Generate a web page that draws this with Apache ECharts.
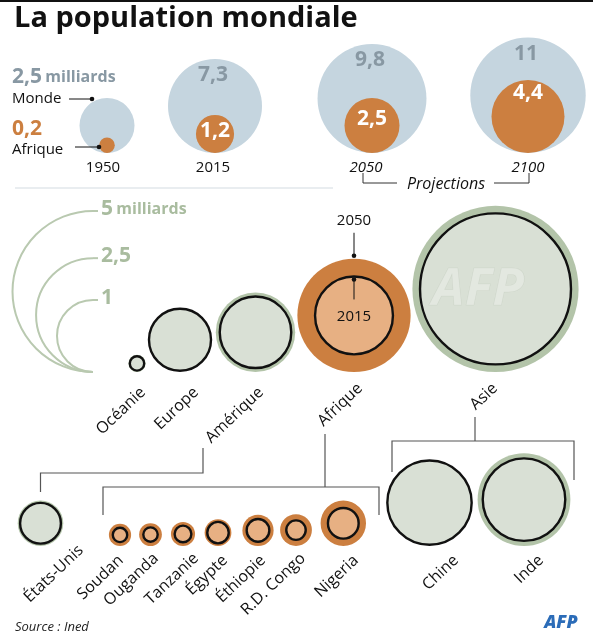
<!DOCTYPE html>
<html><head><meta charset="utf-8">
<script src="https://cdn.jsdelivr.net/npm/echarts@6/dist/echarts.min.js"></script>
<style>html,body{margin:0;padding:0;background:#fff}#c{width:593px;height:644px}</style>
</head><body><div id="c"></div>
<script>
// ---------------- DATA ----------------
const worldYears   = ['1950', '2015', '2050', '2100'];
const worldPop     = [2.5, 7.3, 9.8, 11];     // milliards
const africaPop    = [0.2, 1.2, 2.5, 4.4];    // milliards
const worldLabels  = ['2,5', '7,3', '9,8', '11'];
const africaLabels = ['0,2', '1,2', '2,5', '4,4'];

const regions        = ['Océanie', 'Europe', 'Amérique', 'Afrique', 'Asie'];
const regionPop2015  = [40, 742, 987, 1171, 4397];   // millions
const regionPop2050  = [57, 728, 1217, 2473, 5327];  // millions
const midYearLabels  = ['2015', '2050'];

const countries       = ['États-Unis', 'Soudan', 'Ouganda', 'Tanzanie', 'Égypte', 'Éthiopie', 'R.D. Congo', 'Nigeria', 'Chine', 'Inde'];
const countryRegion   = ['Amérique', 'Afrique', 'Afrique', 'Afrique', 'Afrique', 'Afrique', 'Afrique', 'Afrique', 'Asie', 'Asie'];
const countryPop2015  = [321, 40, 40, 54, 89, 99, 73, 182, 1372, 1314];   // millions
const countryPop2050  = [400, 95, 100, 112, 138, 188, 195, 398, 1344, 1660];

const legendValues = [5000, 2500, 1000];   // millions
const legendLabels = ['5', '2,5', '1'];

// ---------------- LAYOUT ----------------
const W = 593, H = 644;
const FONT = '"Open Sans", "Noto Sans", sans-serif';
const C = {
  world: '#c5d5df', worldTxt: '#8898a3', afr: '#cc7f40', afrLight: '#e7b083',
  green: '#b3c4a9', greenLight: '#d9e0d5', legend: '#b9c9b0', legendTxt: '#a9bc9f', line: '#555'
};
const TOP_BASE = 153, MID_BASE = 372, BOT_BASE = 546;
const topX  = [107, 215, 372, 528];
const yearLabelX = [103, 213, 366, 528];
const afrLabelDy = [0, -3, -6, -23];
const midX  = [137, 180, 255.5, 354, 495.5];
const midLabelAnchor = [[143, 390], [196, 390], [261, 390], [360, 386], [495, 386]];
const botX  = [40.5, 120, 150.5, 183, 218, 258, 296, 343.3, 429.5, 524];
const botLabelAnchor = [[81, 548], [121, 558], [156, 556], [196, 556], [225, 558], [263, 558], [303, 556], [356, 558], [456, 558], [541, 558]];
const LEG_CX = 93;

const radTop = v => 17.4 * Math.sqrt(v);          // milliards -> data units
const radMid = v => 36 * Math.sqrt(v / 1000);     // millions  -> data units
const ROT = 0.76;

const chart = echarts.init(document.getElementById('c'), null, {width: W, height: H});

function colorsFor(region) {
  return region === 'Afrique' ? [C.afr, C.afrLight] : [C.green, C.greenLight];
}

function rotLabel(x, y, text) {
  return {type: 'text', x: x, y: y, rotation: ROT, originX: 0, originY: 0,
    style: {text: text, align: 'right', verticalAlign: 'middle', fill: '#111', font: '16px ' + FONT}};
}

// top row
function renderTop(params, api) {
  const i = api.value(3);
  const rW = api.size([radTop(api.value(1)), 0])[0];
  const rA = api.size([radTop(api.value(2)), 0])[0];
  const base = api.coord([api.value(0), TOP_BASE]);
  const cx = base[0];
  const cyW = base[1] - rW, cyA = base[1] - rA;
  const ch = [
    {type: 'circle', shape: {cx: cx, cy: cyW, r: rW}, style: {fill: C.world}},
    {type: 'circle', shape: {cx: cx, cy: cyA, r: rA}, style: {fill: C.afr}},
    {type: 'text', x: yearLabelX[i], y: 168, style: {text: worldYears[i], align: 'center', verticalAlign: 'middle',
      fill: '#111', font: (i >= 2 ? 'italic ' : '') + '15px ' + FONT}}
  ];
  if (i === 0) {
    ch.push(
      {type: 'text', x: 12, y: 77, style: {text: '{a|' + worldLabels[0] + '} {b|milliards}', verticalAlign: 'middle',
        rich: {a: {fill: C.worldTxt, font: 'bold 21px ' + FONT}, b: {fill: C.worldTxt, font: 'bold 16px ' + FONT}}}},
      {type: 'text', x: 12, y: 99, style: {text: 'Monde', verticalAlign: 'middle', fill: '#111', font: '15px ' + FONT}},
      {type: 'line', shape: {x1: 69, y1: 99, x2: cx - 15, y2: 99}, style: {stroke: '#111', lineWidth: 1}},
      {type: 'circle', shape: {cx: cx - 15, cy: 99, r: 2.3}, style: {fill: '#111'}},
      {type: 'text', x: 12, y: 129, style: {text: africaLabels[0], verticalAlign: 'middle', fill: C.afr, font: 'bold 21px ' + FONT}},
      {type: 'text', x: 12, y: 150, style: {text: 'Afrique', verticalAlign: 'middle', fill: '#111', font: '15px ' + FONT}},
      {type: 'line', shape: {x1: 75, y1: 147, x2: cx - 8, y2: 147}, style: {stroke: '#111', lineWidth: 1}},
      {type: 'circle', shape: {cx: cx - 8, cy: 147, r: 2.3}, style: {fill: '#111'}}
    );
  } else {
    ch.push(
      {type: 'text', x: cx - 2, y: cyW - rW + 16, style: {text: worldLabels[i], align: 'center', verticalAlign: 'middle',
        fill: C.worldTxt, font: 'bold 21px ' + FONT}},
      {type: 'text', x: cx, y: cyA + afrLabelDy[i], style: {text: africaLabels[i], align: 'center', verticalAlign: 'middle',
        fill: '#fff', font: 'bold 21px ' + FONT}}
    );
  }
  return {type: 'group', children: ch};
}

// middle row (continents) & bottom row (countries)
function makeRender(names, regionsOf, anchors, baseY) {
  return function (params, api) {
    const i = api.value(3);
    const r15 = api.size([radMid(api.value(1)), 0])[0];
    const r50 = api.size([radMid(api.value(2)), 0])[0];
    const rMax = Math.max(r15 + 1.2, r50);
    const b = api.coord([api.value(0), baseY]);
    const cx = b[0], cy = b[1] - rMax;
    const col = colorsFor(regionsOf[i]);
    const ch = [
      {type: 'circle', shape: {cx: cx, cy: cy, r: r50}, style: {fill: col[0]}},
      {type: 'circle', shape: {cx: cx, cy: cy, r: r15}, style: {fill: col[1], stroke: '#111', lineWidth: 2.4}},
      rotLabel(anchors[i][0], anchors[i][1], names[i])
    ];
    if (baseY === MID_BASE && names[i] === 'Afrique') {
      const top50 = cy - r50, top15 = cy - r15;
      ch.push(
        {type: 'text', x: cx, y: top50 - 38, style: {text: midYearLabels[1], align: 'center', verticalAlign: 'middle', fill: '#111', font: '15px ' + FONT}},
        {type: 'line', shape: {x1: cx, y1: top50 - 26, x2: cx, y2: top50 - 3}, style: {stroke: '#111', lineWidth: 1}},
        {type: 'circle', shape: {cx: cx, cy: top50 - 3, r: 2.3}, style: {fill: '#111'}},
        {type: 'line', shape: {x1: cx, y1: top15 + 3, x2: cx, y2: top15 + 23}, style: {stroke: '#111', lineWidth: 1}},
        {type: 'circle', shape: {cx: cx, cy: top15 + 3, r: 2.3}, style: {fill: '#111'}},
        {type: 'text', x: cx, y: top15 + 40, style: {text: midYearLabels[0], align: 'center', verticalAlign: 'middle', fill: '#111', font: '15px ' + FONT}}
      );
    }
    return {type: 'group', children: ch};
  };
}

function renderLegend(params, api) {
  const i = params.dataIndex;
  const r = api.size([radMid(api.value(0)), 0])[0];
  const b = api.coord([LEG_CX, MID_BASE]);
  const cx = b[0], cy = b[1] - r;
  return {type: 'group', children: [
    {type: 'arc', shape: {cx: cx, cy: cy, r: r, startAngle: Math.PI / 2, endAngle: Math.PI * 1.5, clockwise: true},
      style: {stroke: C.legend, lineWidth: 2, fill: null}},
    {type: 'line', shape: {x1: cx, y1: cy - r, x2: cx + 5, y2: cy - r}, style: {stroke: C.legend, lineWidth: 2}},
    {type: 'text', x: cx + 8, y: cy - r - 2, style: {
      text: i === 0 ? '{a|' + legendLabels[i] + '} {b|milliards}' : '{a|' + legendLabels[i] + '}',
      verticalAlign: 'middle',
      rich: {a: {fill: C.legendTxt, font: 'bold 21px ' + FONT}, b: {fill: C.legendTxt, font: 'bold 16px ' + FONT}}}}
  ]};
}

const lineStyle = {stroke: C.line, lineWidth: 1.2, fill: null};
const graphics = [
  {type: 'line', shape: {x1: 0, y1: 1, x2: W, y2: 1}, style: {stroke: '#111', lineWidth: 2}},
  {type: 'line', shape: {x1: 15, y1: 188, x2: 333, y2: 188}, style: {stroke: '#d3dbe1', lineWidth: 1}},
  {type: 'polyline', shape: {points: [[363, 173], [363, 183], [397, 183]]}, style: {stroke: '#333', lineWidth: 1, fill: null}},
  {type: 'polyline', shape: {points: [[494, 183], [529, 183], [529, 173]]}, style: {stroke: '#333', lineWidth: 1, fill: null}},
  {type: 'text', x: 446, y: 184, style: {text: 'Projections', align: 'center', verticalAlign: 'middle', fill: '#111', font: 'italic 16px ' + FONT}},
  // tree lines
  {type: 'polyline', shape: {points: [[203, 448], [203, 473], [40.5, 473], [40.5, 492]]}, style: lineStyle},
  {type: 'polyline', shape: {points: [[325, 434], [325, 487]]}, style: lineStyle},
  {type: 'polyline', shape: {points: [[103, 515], [103, 487], [379, 487], [379, 515]]}, style: lineStyle},
  {type: 'polyline', shape: {points: [[475, 417], [475, 441]]}, style: lineStyle},
  {type: 'polyline', shape: {points: [[392, 472], [392, 441], [574, 441], [574, 480]]}, style: lineStyle},
  // watermark
  {type: 'text', x: 478, y: 290, z: 100, style: {text: 'AFP', align: 'center', verticalAlign: 'middle',
    fill: 'rgba(255,255,255,0.28)', stroke: 'rgba(175,185,170,0.35)', lineWidth: 0.6, font: 'italic bold 52px ' + FONT}},
  {type: 'text', x: 15, y: 627, style: {text: 'Source : Ined', verticalAlign: 'middle', fill: '#222', font: 'italic 13px ' + FONT}},
  {type: 'text', x: 561, y: 623, style: {text: 'AFP', align: 'center', verticalAlign: 'middle', fill: '#2b6cb8', font: 'italic 900 18px ' + FONT}}
];

chart.setOption({
  animation: false,
  title: {text: 'La population mondiale', left: 9, top: -1,
    textStyle: {fontFamily: FONT, fontWeight: 'bold', fontSize: 29, color: '#111'}},
  grid: {left: 0, right: 0, top: 0, bottom: 0},
  xAxis: {type: 'value', min: 0, max: W, show: false},
  yAxis: {type: 'value', min: 0, max: H, inverse: true, show: false},
  graphic: graphics,
  series: [
    {type: 'custom', coordinateSystem: 'cartesian2d', renderItem: renderLegend,
      data: legendValues.map(v => [v]), encode: {x: 0, y: 0}, silent: true},
    {type: 'custom', coordinateSystem: 'cartesian2d', renderItem: renderTop,
      data: worldYears.map((y, i) => [topX[i], worldPop[i], africaPop[i], i]), encode: {x: 0, y: 1}, silent: true},
    {type: 'custom', coordinateSystem: 'cartesian2d', renderItem: makeRender(regions, regions, midLabelAnchor, MID_BASE),
      data: regions.map((n, i) => [midX[i], regionPop2015[i], regionPop2050[i], i]), encode: {x: 0, y: 1}, silent: true},
    {type: 'custom', coordinateSystem: 'cartesian2d', renderItem: makeRender(countries, countryRegion, botLabelAnchor, BOT_BASE),
      data: countries.map((n, i) => [botX[i], countryPop2015[i], countryPop2050[i], i]), encode: {x: 0, y: 1}, silent: true}
  ]
});
</script></body></html>
